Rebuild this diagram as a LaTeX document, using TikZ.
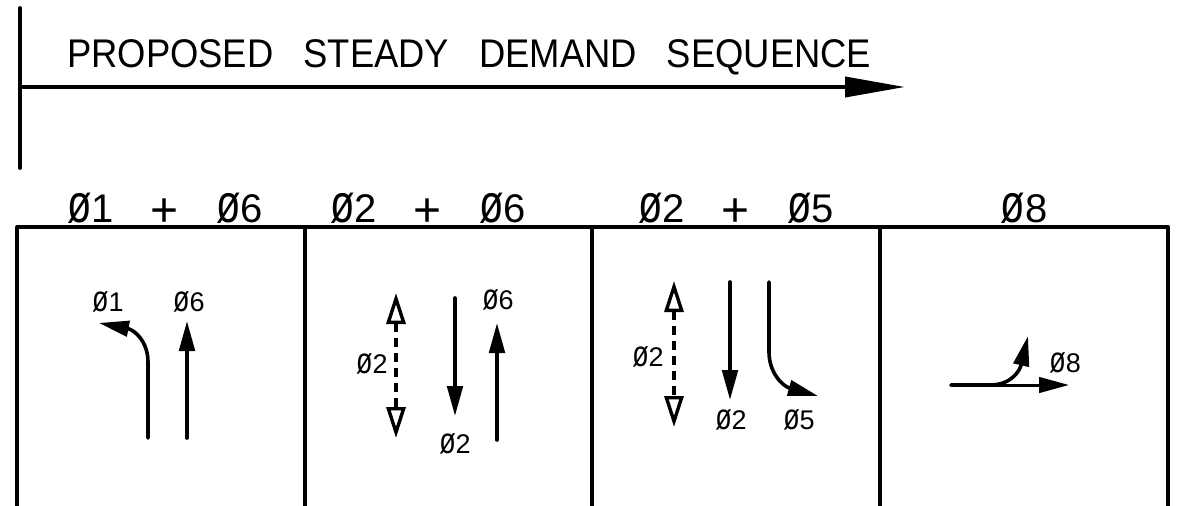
\documentclass[tikz,border=0pt]{standalone}
\usepackage{graphicx}
\usepackage{fontspec}
\setmainfont{Liberation Sans}
\newfontfamily\narrowfont[FakeStretch=0.91]{Liberation Sans}
\usetikzlibrary{arrows.meta}
\newcommand{\tallo}{\scalebox{1}[1.35]{ø}}
\newcommand{\bigplus}{\raisebox{-4pt}{\scalebox{1.2}[1.2]{+}}}
\tikzset{
  wall/.style={line width=3.8pt,line cap=round},
  flow/.style={line width=3.6pt,line cap=round,-{Triangle[length=30pt,width=15.5pt]}},
  bendflow/.style={flow},
  flowopen/.style={line width=3.6pt,dash pattern=on 9pt off 6pt,{Triangle[open,length=31pt,width=19pt,fill=white,line width=3.4pt]}-{Triangle[open,length=31pt,width=19pt,fill=white,line width=3.4pt]}},
  bigtitle/.style={inner sep=0pt,anchor=base west,font=\narrowfont\fontsize{40}{40}\selectfont},
  headtext/.style={inner sep=0pt,anchor=base,font=\fontsize{40}{40}\selectfont},
  lab/.style={inner sep=0pt,font=\fontsize{27}{27}\selectfont}
}
\begin{document}
\begin{tikzpicture}[x=1pt,y=-1pt]
\useasboundingbox (0,0) rectangle (1178,506);
\fill[white] (0,0) rectangle (1178,506);
% title and time arrow
\node[bigtitle] (t) at (67,67) {\spaceskip=30pt plus 0pt minus 0pt\relax PROPOSED STEADY DEMAND SEQUENCE};
\coordinate (v1) at (20,8);
\coordinate (v2) at (20,168);
\coordinate (h1) at (20,87);
\coordinate (h2) at (905,87);
\draw[wall] (v1) -- (v2);
\draw[line width=3.8pt,-{Triangle[length=60pt,width=20pt]}] (h1) -- (h2);
% table
\coordinate (tl) at (17,227); \coordinate (tr) at (1168,227);
\draw[wall] (tl) -- (tr);
\foreach \n/\x in {a/17,b/305,c/592,d/880,e/1168}{
  \coordinate (\n1) at (\x,227);
  \coordinate (\n2) at (\x,506);
  \draw[line width=3.8pt] (\n1) -- (\n2);
}
\node[headtext] (h1t) at (165,222) {\spaceskip=37pt plus 0pt minus 0pt\relax \tallo1 \bigplus{} \tallo6};
\node[headtext] (h2t) at (428,222) {\spaceskip=37pt plus 0pt minus 0pt\relax \tallo2 \bigplus{} \tallo6};
\node[headtext] (h3t) at (736,222) {\spaceskip=37pt plus 0pt minus 0pt\relax \tallo2 \bigplus{} \tallo5};
\node[headtext] (h4t) at (1024,222) {\tallo8};
% panel 1
\coordinate (p1a) at (148,438); \coordinate (p1b) at (148,362); \coordinate (p1c) at (99,323);
\draw[bendflow] (p1a) -- (p1b) .. controls (148,342) and (135,330) .. (p1c);
\coordinate (p1d) at (187,438); \coordinate (p1e) at (187,321);
\draw[flow] (p1d) -- (p1e);
\node[lab] (l1) at (108,302) {\tallo1};
\node[lab] (l6) at (189,302) {\tallo6};
% panel 2
\coordinate (p2a) at (396,293); \coordinate (p2b) at (396,438);
\draw[flowopen] (p2a) -- (p2b);
\coordinate (p2c) at (455,298); \coordinate (p2d) at (455,416);
\draw[flow] (p2c) -- (p2d);
\coordinate (p2e) at (497,440); \coordinate (p2f) at (497,323);
\draw[flow] (p2e) -- (p2f);
\node[lab] (l2a) at (372,364) {\tallo2};
\node[lab] (l2b) at (455,444) {\tallo2};
\node[lab] (l6b) at (498,300) {\tallo6};
% panel 3
\coordinate (p3a) at (674,281); \coordinate (p3b) at (674,427);
\draw[flowopen] (p3a) -- (p3b);
\coordinate (p3c) at (730,282); \coordinate (p3d) at (730,400);
\draw[flow] (p3c) -- (p3d);
\coordinate (p3e) at (769,282); \coordinate (p3f) at (769,352); \coordinate (p3g) at (818,396);
\draw[bendflow] (p3e) -- (p3f) .. controls (769,372) and (782,386) .. (p3g);
\node[lab] (l2c) at (648,357) {\tallo2};
\node[lab] (l2d) at (731,420) {\tallo2};
\node[lab] (l5) at (799,420) {\tallo5};
% panel 4
\coordinate (p4a) at (951,385); \coordinate (p4b) at (1069,385);
\draw[line width=3pt,line cap=round,-{Triangle[length=30pt,width=15.5pt]}] (p4a) -- (p4b);
\coordinate (p4c) at (951,385); \coordinate (p4d) at (1028,336);
\draw[bendflow] (p4c) -- (990,385) .. controls (1012,385) and (1020,370) .. (p4d);
\node[lab] (l8) at (1065,363) {\tallo8};
\end{tikzpicture}
\end{document}
